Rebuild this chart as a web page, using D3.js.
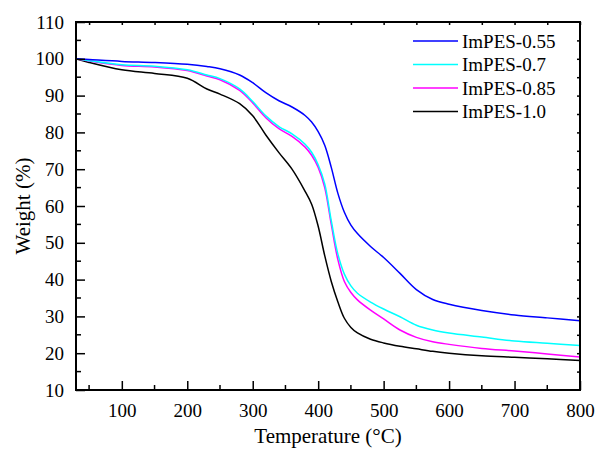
<!DOCTYPE html>
<html>
<head>
<meta charset="utf-8">
<script src="https://cdn.jsdelivr.net/npm/d3@7"></script>
<style>
  html, body { margin: 0; padding: 0; background: #fff; }
  svg { display: block; }
  svg text { font-family: "Liberation Serif", "Times New Roman", "DejaVu Serif", serif; }
</style>
</head>
<body>
<svg id="chart" width="597" height="449"></svg>
<script>
// Temperature grid (°C) shared by all TGA curves
const temperature = [30, 50, 100, 150, 200, 230, 250, 280, 300, 320, 340, 360, 380, 390, 400, 410, 420, 430, 440, 450, 460, 480, 500, 525, 550, 575, 600, 650, 700, 750, 800];

// Residual weight (%) for each membrane
const impes055 = [100, 99.8, 99.3, 99.0, 98.5, 97.9, 97.3, 95.6, 93.5, 90.8, 88.6, 86.9, 84.6, 82.8, 80.2, 76.5, 70.5, 63.5, 58.3, 54.8, 52.5, 49.0, 46.0, 41.7, 37.3, 34.6, 33.3, 31.6, 30.4, 29.6, 28.8];
const impes07  = [100, 99.5, 98.4, 98.0, 97.0, 95.6, 94.6, 91.8, 88.4, 84.5, 81.6, 79.6, 76.8, 74.6, 71.2, 66.0, 56.0, 47.0, 41.5, 38.3, 36.3, 33.9, 32.0, 29.9, 27.6, 26.3, 25.5, 24.4, 23.3, 22.7, 22.1];
const impes085 = [100, 99.4, 98.2, 97.8, 96.8, 95.3, 94.3, 91.4, 88.0, 84.0, 81.0, 78.9, 76.0, 73.8, 70.5, 65.0, 55.0, 45.5, 39.5, 36.5, 34.5, 31.7, 29.3, 26.3, 24.3, 23.1, 22.4, 21.3, 20.6, 19.8, 19.0];
const impes10  = [100, 99.0, 97.0, 96.0, 94.7, 91.8, 90.4, 87.8, 84.5, 79.3, 74.5, 70.0, 64.0, 60.5, 54.5, 46.5, 39.5, 34.0, 29.5, 27.0, 25.5, 23.8, 22.8, 21.9, 21.2, 20.5, 20.0, 19.3, 18.9, 18.5, 18.0];

const seriesNames  = ["ImPES-0.55", "ImPES-0.7", "ImPES-0.85", "ImPES-1.0"];
const seriesValues = [impes055, impes07, impes085, impes10];
const seriesColors = ["#0000ff", "#00ffff", "#ff00ff", "#000000"];

const xTicks = [100, 200, 300, 400, 500, 600, 700, 800];
const yTicks = [10, 20, 30, 40, 50, 60, 70, 80, 90, 100, 110];

const serif = "'Liberation Serif', 'Times New Roman', 'DejaVu Serif', serif";
const svg = d3.select("#chart").attr("font-family", serif);
const plotLeft = 76, plotRight = 580, plotTop = 22, plotBottom = 390;

const x = d3.scaleLinear().domain([30, 800]).range([plotLeft, plotRight]);
const y = d3.scaleLinear().domain([10, 110]).range([plotBottom, plotTop]);

const fontSize = 19;

// Curves (drawn first, axes frame on top)
const plot = svg.append("g");
const line = d3.line()
  .x((d, i) => x(temperature[i]))
  .y(d => y(d))
  .curve(d3.curveCatmullRom.alpha(0.5));

// black first so the coloured curves sit above it
[3, 2, 1, 0].forEach(k => {
  plot.append("path")
    .datum(seriesValues[k])
    .attr("fill", "none")
    .attr("stroke", seriesColors[k])
    .attr("stroke-width", 1.5)
    .attr("d", line);
});

// Minor tick values
const xMinor = d3.range(50, 800, 100);
const yMinor = d3.range(15, 110, 10);

// Bottom axis: inward ticks
const gx = svg.append("g").attr("transform", `translate(0,${plotBottom})`);
gx.call(d3.axisBottom(x).tickValues(xTicks).tickSize(-9).tickPadding(14).tickFormat(d3.format("d")));
gx.append("g").selectAll("line").data(xMinor).join("line")
  .attr("x1", d => x(d)).attr("x2", d => x(d)).attr("y1", 0).attr("y2", -5)
  .attr("stroke", "#000").attr("stroke-width", 1.5);

// Left axis
const gy = svg.append("g").attr("transform", `translate(${plotLeft},0)`);
gy.call(d3.axisLeft(y).tickValues(yTicks).tickSize(-9).tickPadding(12).tickFormat(d3.format("d")));
gy.append("g").selectAll("line").data(yMinor).join("line")
  .attr("y1", d => y(d)).attr("y2", d => y(d)).attr("x1", 0).attr("x2", 5)
  .attr("stroke", "#000").attr("stroke-width", 1.5);

// Top and right mirror axes with short inward ticks
const gt = svg.append("g").attr("transform", `translate(0,${plotTop})`);
gt.call(d3.axisTop(x).tickValues(d3.range(50, 801, 50)).tickSize(-3).tickFormat(""));
const gr = svg.append("g").attr("transform", `translate(${plotRight},0)`);
gr.call(d3.axisRight(y).tickValues(d3.range(15, 110, 5)).tickSize(-3).tickFormat(""));

[gx, gy, gt, gr].forEach(g => {
  g.attr("font-family", serif);
  g.select(".domain").remove();
  g.selectAll(".tick line").attr("stroke", "#000").attr("stroke-width", 1.5);
  g.selectAll(".tick text")
    .attr("fill", "#000")
    .attr("font-family", serif)
    .attr("font-size", fontSize);
});

// Plot frame
svg.append("rect")
  .attr("x", plotLeft).attr("y", plotTop)
  .attr("width", plotRight - plotLeft).attr("height", plotBottom - plotTop)
  .attr("fill", "none").attr("stroke", "#000").attr("stroke-width", 2);

// Axis titles
svg.append("text")
  .attr("x", (plotLeft + plotRight) / 2)
  .attr("y", 443)
  .attr("text-anchor", "middle")
  .attr("font-size", 21)
  .text("Temperature (°C)");

svg.append("text")
  .attr("transform", `translate(30,${(plotTop + plotBottom) / 2}) rotate(-90)`)
  .attr("text-anchor", "middle")
  .attr("font-size", 21)
  .text("Weight (%)");

// Legend
const legend = svg.append("g");
seriesNames.forEach((name, i) => {
  const ly = 41 + i * 23.5;
  legend.append("line")
    .attr("x1", 413).attr("x2", 458).attr("y1", ly).attr("y2", ly)
    .attr("stroke", seriesColors[i]).attr("stroke-width", 1.5);
  legend.append("text")
    .attr("x", 462).attr("y", ly + 6.5)
    .attr("font-size", fontSize)
    .text(name);
});
</script>
</body>
</html>
